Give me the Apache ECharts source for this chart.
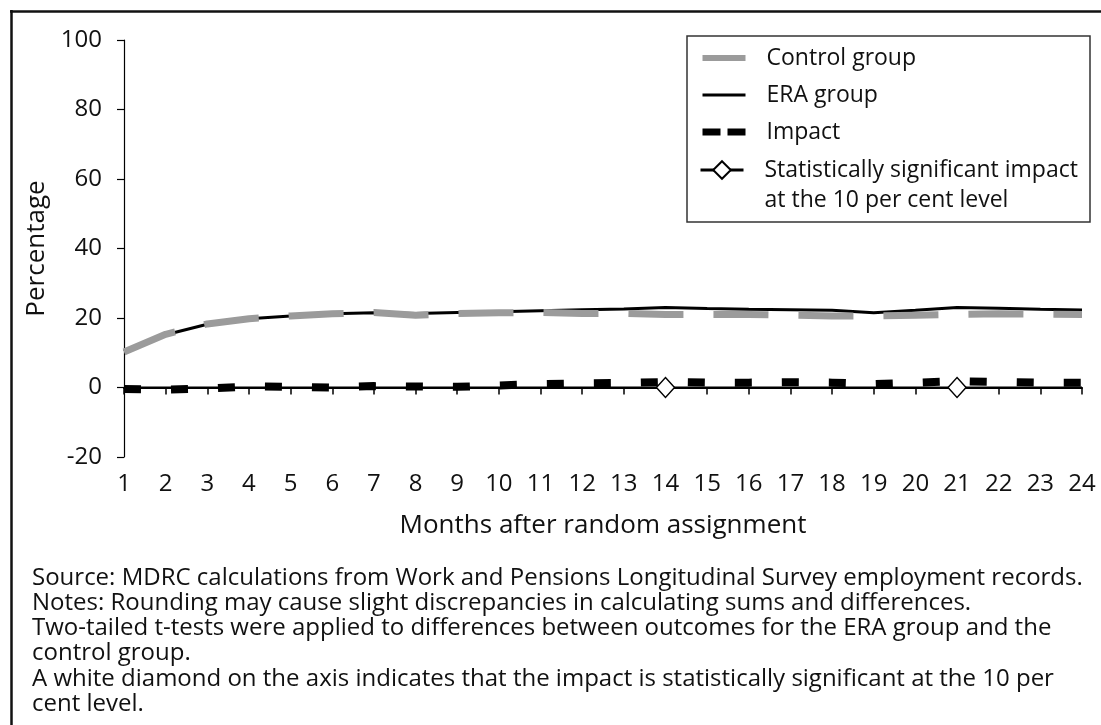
<!DOCTYPE html>
<html>
<head>
<meta charset="utf-8">
<script src="https://cdn.jsdelivr.net/npm/echarts@6/dist/echarts.min.js"></script>
<style>
  html, body { margin: 0; padding: 0; background: #fff; }
  #chart { width: 1101px; height: 725px; }
</style>
</head>
<body>
<div id="chart"></div>
<script>
// ---- data ----
var months = ['1','2','3','4','5','6','7','8','9','10','11','12','13','14','15','16','17','18','19','20','21','22','23','24'];
var controlGroup = [10.2, 15.3, 18.3, 19.8, 20.6, 21.2, 21.6, 20.8, 21.3, 21.5, 21.6, 21.3, 21.3, 21.0, 21.0, 21.0, 20.8, 20.6, 20.6, 20.8, 21.0, 21.2, 21.1, 21.0];
var eraGroup = [10.4, 15.2, 18.2, 19.8, 20.6, 21.2, 21.5, 21.3, 21.6, 21.8, 22.1, 22.4, 22.6, 23.0, 22.7, 22.5, 22.4, 22.2, 21.5, 22.2, 23.0, 22.8, 22.5, 22.3];
var impact = [-0.4, -0.6, -0.3, 0.3, 0.2, 0.0, 0.4, 0.3, 0.2, 0.6, 1.0, 1.2, 1.3, 1.6, 1.4, 1.4, 1.5, 1.4, 1.0, 1.4, 1.8, 1.6, 1.4, 1.4];
var significantMonths = ['14', '21'];
var yTicks = { min: -20, max: 100, interval: 20 };
var notes = [
  'Source: MDRC calculations from Work and Pensions Longitudinal Survey employment records.',
  'Notes: Rounding may cause slight discrepancies in calculating sums and differences.',
  'Two-tailed t-tests were applied to differences between outcomes for the ERA group and the',
  'control group.',
  'A white diamond on the axis indicates that the impact is statistically significant at the 10 per',
  'cent level.'
];

var FONT = '"Open Sans", "Noto Sans", sans-serif';
var TXT = '#111';

var sigData = months.map(function (m) {
  return significantMonths.indexOf(m) >= 0 ? { value: 0, symbol: 'diamond' } : { value: 0, symbol: 'none' };
});

var chart = echarts.init(document.getElementById('chart'), null, { renderer: 'canvas' });

var noteGraphics = notes.map(function (t, i) {
  return {
    type: 'text', left: 32, top: 566 + i * 25.2,
    style: { text: t, font: '24px ' + FONT, fill: TXT }
  };
});

var hideSym = { opacity: 0, color: 'transparent', borderColor: 'transparent' };

chart.setOption({
  backgroundColor: '#fff',
  textStyle: { fontFamily: FONT },
  animation: false,
  grid: { left: 124, right: 19, top: 40, bottom: 268, containLabel: false },
  legend: [
    {
      orient: 'vertical', left: 699, top: 43, padding: 0, itemGap: 7,
      itemWidth: 43, itemHeight: 14,
      textStyle: { fontSize: 23, color: TXT, fontFamily: FONT, lineHeight: 30, padding: [0, 0, 0, 16] },
      data: [
        { name: 'Control group', itemStyle: hideSym, lineStyle: { width: 6, type: 'solid', color: '#9b9b9b' } },
        { name: 'ERA group', itemStyle: hideSym, lineStyle: { width: 3, type: 'solid', color: '#000' } },
        { name: 'Impact', itemStyle: hideSym, lineStyle: { type: [18, 7], width: 7, color: '#000' } }
      ]
    },
    {
      orient: 'vertical', left: 699, top: 125, padding: 0,
      itemWidth: 43, itemHeight: 22,
      formatter: function () { return ' \nStatistically significant impact\nat the 10 per cent level'; },
      textStyle: { fontSize: 23, color: TXT, fontFamily: FONT, lineHeight: 30, padding: [0, 0, 0, 16] },
      data: [{ name: 'Statistically significant impact at the 10 per cent level', lineStyle: { width: 3, color: '#000' } }]
    }
  ],
  graphic: [
    { type: 'line', shape: { x1: 10, y1: 11.5, x2: 1101, y2: 11.5 }, style: { stroke: '#111', lineWidth: 2.5 } },
    { type: 'line', shape: { x1: 11.5, y1: 10, x2: 11.5, y2: 725 }, style: { stroke: '#111', lineWidth: 2.5 } },
    { type: 'rect', shape: { x: 687, y: 36, width: 403, height: 186 }, style: { fill: 'none', stroke: '#333', lineWidth: 1.5 }, z: 10 }
  ].concat(noteGraphics),
  xAxis: [
    {
      type: 'category', data: months, boundaryGap: false, position: 'bottom',
      axisLine: { show: false, onZero: false }, axisTick: { show: false },
      axisLabel: { fontSize: 24, color: TXT, margin: 15, fontFamily: FONT, interval: 0 },
      name: 'Months after random assignment', nameLocation: 'middle', nameGap: 56,
      nameTextStyle: { fontSize: 26, color: TXT, fontFamily: FONT },
      splitLine: { show: false }
    },
    {
      type: 'category', data: months, boundaryGap: false, position: 'bottom',
      axisLine: { show: true, onZero: true, lineStyle: { color: '#000', width: 2 } },
      axisTick: { show: true, length: 7, interval: 0, lineStyle: { color: '#000', width: 1.5 } },
      axisLabel: { show: false }, splitLine: { show: false }
    }
  ],
  yAxis: {
    type: 'value', min: yTicks.min, max: yTicks.max, interval: yTicks.interval,
    axisLine: { show: true, lineStyle: { color: '#000', width: 1.2 } },
    axisTick: { show: true, length: 7, lineStyle: { color: '#000', width: 1.2 } },
    axisLabel: { fontSize: 24, color: TXT, margin: 22, fontFamily: FONT },
    splitLine: { show: false },
    name: 'Percentage', nameLocation: 'middle', nameGap: 67,
    nameTextStyle: { fontSize: 26, color: TXT, fontFamily: FONT }
  },
  series: [
    {
      name: 'ERA group', type: 'line', data: eraGroup, symbol: 'none', z: 2,
      lineStyle: { color: '#000', width: 3 }, itemStyle: { color: '#000' }
    },
    {
      name: 'Control group', type: 'line', data: controlGroup, symbol: 'none', z: 3,
      lineStyle: { color: '#9b9b9b', width: 7, type: [55, 30], cap: 'butt' }, itemStyle: { color: '#9b9b9b' }
    },
    {
      name: 'Impact', type: 'line', data: impact, symbol: 'none', z: 4,
      lineStyle: { color: '#000', width: 8, type: [17, 30], cap: 'butt' }, itemStyle: { color: '#000' }
    },
    {
      name: 'Statistically significant impact at the 10 per cent level', type: 'line', data: sigData,
      symbol: 'diamond', symbolSize: [18, 20], z: 5, showAllSymbol: true,
      lineStyle: { color: '#000', width: 2 },
      itemStyle: { color: '#fff', borderColor: '#000', borderWidth: 1.5 }
    }
  ]
});
</script>
</body>
</html>
